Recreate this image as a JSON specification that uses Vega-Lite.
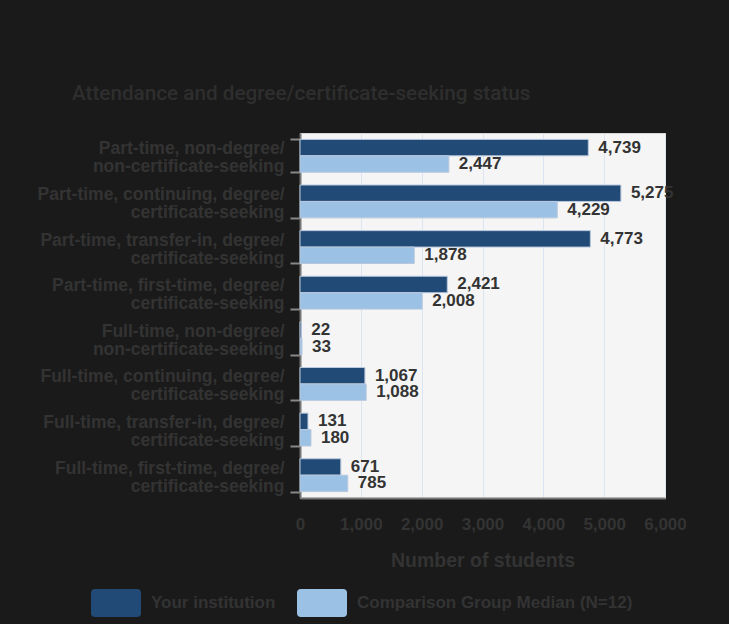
{
  "$schema": "https://vega.github.io/schema/vega-lite/v6.json",
  "width": 365,
  "height": 365,
  "autosize": {"type": "none"},
  "padding": {"left": 300, "top": 133, "right": 64, "bottom": 126},
  "background": "#1a1a1a",
  "title": {
    "text": "Attendance and degree/certificate-seeking status",
    "anchor": "start",
    "frame": "group",
    "dx": -228,
    "offset": 19,
    "font": "Roboto",
    "fontSize": 20.7,
    "fontWeight": 500,
    "color": "#2e2e2e"
  },
  "data": {
    "values": [
      {"cat": "Part-time, non-degree/non-certificate-seeking", "series": "Your institution", "value": 4739},
      {"cat": "Part-time, non-degree/non-certificate-seeking", "series": "Comparison Group Median (N=12)", "value": 2447},
      {"cat": "Part-time, continuing, degree/certificate-seeking", "series": "Your institution", "value": 5275},
      {"cat": "Part-time, continuing, degree/certificate-seeking", "series": "Comparison Group Median (N=12)", "value": 4229},
      {"cat": "Part-time, transfer-in, degree/certificate-seeking", "series": "Your institution", "value": 4773},
      {"cat": "Part-time, transfer-in, degree/certificate-seeking", "series": "Comparison Group Median (N=12)", "value": 1878},
      {"cat": "Part-time, first-time, degree/certificate-seeking", "series": "Your institution", "value": 2421},
      {"cat": "Part-time, first-time, degree/certificate-seeking", "series": "Comparison Group Median (N=12)", "value": 2008},
      {"cat": "Full-time, non-degree/non-certificate-seeking", "series": "Your institution", "value": 22},
      {"cat": "Full-time, non-degree/non-certificate-seeking", "series": "Comparison Group Median (N=12)", "value": 33},
      {"cat": "Full-time, continuing, degree/certificate-seeking", "series": "Your institution", "value": 1067},
      {"cat": "Full-time, continuing, degree/certificate-seeking", "series": "Comparison Group Median (N=12)", "value": 1088},
      {"cat": "Full-time, transfer-in, degree/certificate-seeking", "series": "Your institution", "value": 131},
      {"cat": "Full-time, transfer-in, degree/certificate-seeking", "series": "Comparison Group Median (N=12)", "value": 180},
      {"cat": "Full-time, first-time, degree/certificate-seeking", "series": "Your institution", "value": 671},
      {"cat": "Full-time, first-time, degree/certificate-seeking", "series": "Comparison Group Median (N=12)", "value": 785}
    ]
  },
  "encoding": {
    "y": {
      "field": "cat",
      "type": "nominal",
      "sort": null,
      "scale": {"paddingInner": 0.28, "paddingOuter": 0.14},
      "axis": {
        "title": null,
        "tickBand": "extent",
        "labelExpr": "[slice(datum.label, 0, indexof(datum.label, '/') + 1), slice(datum.label, indexof(datum.label, '/') + 1)]",
        "labelFont": "Liberation Sans",
        "labelFontSize": 17.5,
        "labelFontWeight": "bold",
        "labelColor": "#333333",
        "labelLineHeight": 18,
        "labelLimit": 320,
        "labelPadding": 6,
        "labelOffset": -7,
        "tickSize": 10,
        "tickColor": "#888888",
        "tickWidth": 2,
        "domainColor": "#777777",
        "domainWidth": 2,
        "grid": false
      }
    },
    "yOffset": {
      "field": "series",
      "type": "nominal",
      "sort": ["Your institution", "Comparison Group Median (N=12)"],
      "scale": {"paddingInner": 0, "paddingOuter": 0}
    },
    "x": {
      "field": "value",
      "type": "quantitative",
      "scale": {"domain": [0, 6000], "nice": false},
      "axis": {
        "title": "Number of students",
        "values": [0, 1000, 2000, 3000, 4000, 5000, 6000],
        "format": ",d",
        "labelFont": "Liberation Sans",
        "labelFontSize": 17,
        "labelFontWeight": "bold",
        "labelColor": "#333333",
        "labelPadding": 18,
        "labelFlush": false,
        "ticks": false,
        "domainColor": "#777777",
        "domainWidth": 2,
        "grid": true,
        "gridColor": "#dbe5f1",
        "gridWidth": 1,
        "titleFont": "Liberation Sans",
        "titleFontSize": 19.5,
        "titleFontWeight": "bold",
        "titleColor": "#333333",
        "titlePadding": 19
      }
    }
  },
  "layer": [
    {
      "mark": {"type": "bar", "stroke": "#b8c8dc", "strokeWidth": 1},
      "encoding": {
        "color": {
          "field": "series",
          "type": "nominal",
          "scale": {
            "domain": ["Your institution", "Comparison Group Median (N=12)"],
            "range": ["#224a77", "#9bc1e5"]
          },
          "legend": {
            "title": null,
            "orient": "none",
            "legendX": -209,
            "legendY": 445,
            "direction": "horizontal",
            "symbolType": "M-0.84,-0.56 L0.84,-0.56 Q1,-0.56 1,-0.4 L1,0.4 Q1,0.56 0.84,0.56 L-0.84,0.56 Q-1,0.56 -1,0.4 L-1,-0.4 Q-1,-0.56 -0.84,-0.56 Z",
            "symbolSize": 2500,
            "symbolStrokeWidth": 0,
            "symbolOpacity": 1,
            "labelFont": "Liberation Sans",
            "labelFontSize": 17,
            "labelFontWeight": "bold",
            "labelColor": "#333333",
            "labelOffset": 10,
            "labelLimit": 400,
            "columnPadding": 21,
            "padding": 0
          }
        }
      }
    },
    {
      "mark": {
        "type": "text",
        "align": "left",
        "baseline": "middle",
        "dx": 10,
        "font": "Liberation Sans",
        "fontSize": 17,
        "fontWeight": "bold",
        "color": "#333333"
      },
      "encoding": {
        "text": {"field": "value", "type": "quantitative", "format": ",d"}
      }
    }
  ],
  "config": {
    "view": {"fill": "#f5f5f5", "stroke": "#d6d6d6", "strokeWidth": 1}
  }
}
